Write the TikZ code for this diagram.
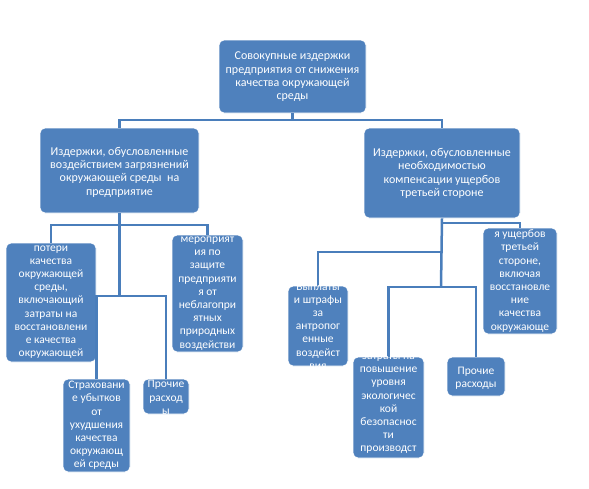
\documentclass[tikz,border=0pt]{standalone}
\usepackage{fontspec}
\setmainfont{Carlito}
\definecolor{boxblue}{HTML}{4F81BD}
\definecolor{linkblue}{HTML}{4A7EBB}
\begin{document}
\begin{tikzpicture}[x=1pt,y=-1pt,
  box/.style={draw=white,line width=0.8pt,fill=boxblue,rounded corners=5pt,inner sep=0pt},
  txt/.style={text=white,align=center,inner sep=0pt,font=\fontsize{11.5}{13.2}\selectfont},
  bigtxt/.style={txt,font=\fontsize{12}{13.3}\selectfont},
  conn/.style={draw=linkblue,line width=2.5pt}]
\useasboundingbox (0,0) rectangle (589,488);
% connector junctions
\coordinate (j0) at (292.5,120);
\coordinate (l1) at (119.5,225);
\coordinate (l2) at (119.5,296);
\coordinate (r1) at (441,223);
\coordinate (r2) at (441,252);
\coordinate (r3) at (441,287);
% boxes
\node[box,minimum width=147pt,minimum height=73pt] (top) at (292.5,76.5) {};
\node[box,minimum width=159pt,minimum height=85pt] (lm) at (119.5,170.5) {};
\node[box,minimum width=156pt,minimum height=90pt] (rm) at (442,173) {};
\node[box,minimum width=90pt,minimum height=119pt] (b1) at (51,302.5) {};
\node[box,minimum width=71pt,minimum height=117pt] (b2) at (207.5,293.5) {};
\node[box,minimum width=67pt,minimum height=93pt] (b3) at (96.5,425.5) {};
\node[box,minimum width=46pt,minimum height=35pt] (b4) at (166,396.5) {};
\node[box,minimum width=60pt,minimum height=80pt] (b5) at (318,326) {};
\node[box,minimum width=71pt,minimum height=101pt] (b6) at (388.5,407.5) {};
\node[box,minimum width=58pt,minimum height=39pt] (b7) at (476,376.5) {};
\node[box,minimum width=74pt,minimum height=106pt] (b8) at (520,281) {};
% connectors
\draw[conn] (top.south) -- (j0) -| (lm.north);
\draw[conn] (j0) -| (rm.north);
\draw[conn] (lm.south) -- (l2);
\draw[conn] (l1) -| (b1.north);
\draw[conn] (l1) -| (b2.north);
\draw[conn] (l2) -| (b3.north);
\draw[conn] (l2) -| (b4.north);
\draw[conn] (rm.south) -- (r3);
\draw[conn] (r1) -| (b8.north);
\draw[conn] (r2) -| (b5.north);
\draw[conn] (r3) -| (b6.north);
\draw[conn] (r3) -| (b7.north);
% texts
\node[bigtxt] (ttop) at (292.5,77) {Совокупные издержки\\предприятия от снижения\\качества окружающей\\среды};
\node[bigtxt] (tlm) at (119.5,172) {Издержки, обусловленные\\воздействием загрязнений\\окружающей среды\ \ на\\предприятие};
\node[bigtxt] (trm) at (442,173.5) {Издержки, обусловленные\\необходимостью\\компенсации ущербов\\третьей стороне};
\node[txt] (t1) at (51,302) {потери\\качества\\окружающей\\среды,\\включающий\\затраты на\\восстановлени\\е качества\\окружающей};
\node[txt] (t2) at (207.5,293.5) {мероприят\\ия по\\защите\\предприяти\\я от\\неблагопри\\ятных\\природных\\воздействи};
\node[txt] (t3) at (96.5,425.5) {Страховани\\е убытков\\от\\ухудшения\\качества\\окружающ\\ей среды};
\node[txt] (t4) at (166,397.5) {Прочие\\расход\\ы};
\node[txt] (t7) at (476,378) {Прочие\\расходы};
\begin{scope}
\clip (b5.north west) rectangle (b5.south east);
\node[txt] (t5) at (318,326) {Выплаты\\и штрафы\\за\\антропог\\енные\\воздейст\\вия};
\end{scope}
\begin{scope}
\clip (b6.north west) rectangle (b6.south east);
\node[txt] (t6) at (388.5,409.5) {затраты на\\повышение\\уровня\\экологичес\\кой\\безопаснос\\ти\\производст\\ва};
\end{scope}
\node[txt] (t8) at (520,281) {я ущербов\\третьей\\стороне,\\включая\\восстановле\\ние\\качества\\окружающе};
\end{tikzpicture}
\end{document}
